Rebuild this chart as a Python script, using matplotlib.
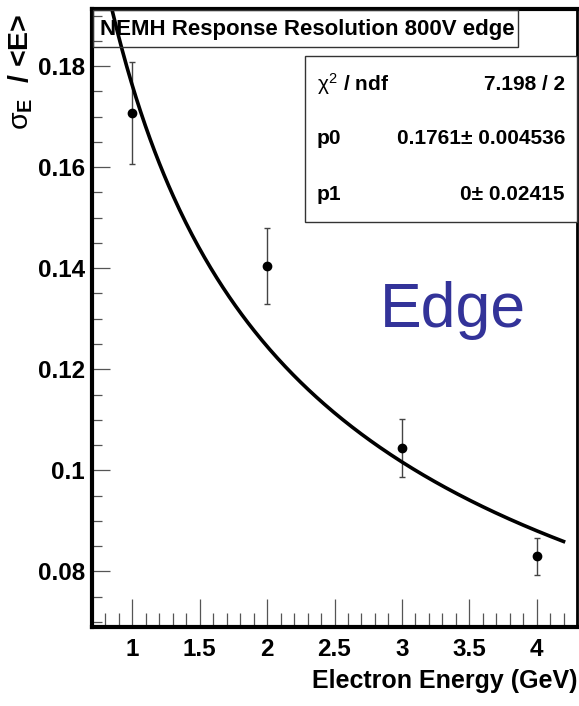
import numpy as np
import matplotlib
matplotlib.use("Agg")
import matplotlib.pyplot as plt
from matplotlib.ticker import MultipleLocator, FuncFormatter

energy = [1, 2, 3, 4]
resolution = [0.1707, 0.1405, 0.1044, 0.0830]
res_err = [0.0101, 0.0075, 0.0057, 0.0037]
p0, p1 = 0.1761, 0.0
fit_range = (0.75, 4.2)

title = "NEMH Response Resolution 800V edge"
stats_rows = [(r"$\chi^{2}$ / ndf", "7.198 / 2"),
              ("p0", "0.1761\u00b1 0.004536"),
              ("p1", "0\u00b1 0.02415")]

fam = ["Liberation Sans", "DejaVu Sans"]
plt.rcParams['font.family'] = fam
plt.rcParams['mathtext.fontset'] = 'custom'
plt.rcParams['mathtext.rm'] = 'Liberation Sans'
plt.rcParams['mathtext.it'] = 'Liberation Sans'
plt.rcParams['mathtext.bf'] = 'Liberation Sans:bold'

fig = plt.figure(figsize=(5.79, 7.06), dpi=100)
ax = fig.add_axes([92/579, 1-627/706, (577-92)/579, (627-9)/706])

xf = np.linspace(fit_range[0], fit_range[1], 300)
yf = np.sqrt((p0**2)/xf + p1**2)
ax.plot(xf, yf, color='black', lw=2.6, zorder=7, clip_on=True)

ax.errorbar(energy, resolution, yerr=res_err, fmt='o', color='black',
            ecolor='#444444', elinewidth=1.0, capsize=2.5, capthick=1.0,
            markersize=6, zorder=4)

ax.set_xlim(0.7, 4.3)
ax.set_ylim(0.069, 0.1913)
ax.xaxis.set_major_locator(MultipleLocator(0.5))
ax.xaxis.set_minor_locator(MultipleLocator(0.1))
ax.yaxis.set_major_locator(MultipleLocator(0.02))
ax.yaxis.set_minor_locator(MultipleLocator(0.005))
ax.tick_params(axis='both', which='both', direction='in', top=False, right=False,
               color='#555555', width=0.9)
ax.tick_params(axis='x', which='major', length=20, pad=8)
ax.tick_params(axis='x', which='minor', length=10)
ax.tick_params(axis='y', which='major', length=13, pad=5)
ax.tick_params(axis='y', which='minor', length=7)

def fmt(v, pos):
    return ("%.2f" % v).rstrip('0').rstrip('.')
ax.xaxis.set_major_formatter(FuncFormatter(fmt))
ax.yaxis.set_major_formatter(FuncFormatter(fmt))
for lab in ax.get_xticklabels() + ax.get_yticklabels():
    lab.set_fontsize(17.5)
    lab.set_fontweight('bold')

for side in ['left', 'bottom', 'top']:
    ax.spines[side].set_linewidth(3)
ax.spines['right'].set_linewidth(2)

ax.set_xlabel("Electron Energy (GeV)", fontsize=18, fontweight='bold', loc='right', labelpad=6)
ax.set_ylabel(r"$\sigma_{\mathbf{E}}$  / <E>", fontsize=20.5, fontweight='bold', loc='top')
ax.yaxis.set_label_coords(-0.118, 0.993)

# title box (unfilled, curve passes over it)
fig.patches.append(plt.Rectangle((93/579, 1-47/706), (518-93)/579, (47-10)/706,
                                 transform=fig.transFigure, fill=False,
                                 edgecolor='#333333', lw=1.0, zorder=5))
fig.text(100/579, 1-29/706, title, fontsize=16, fontweight='bold', va='center', ha='left', zorder=6)

# stats box
fig.patches.append(plt.Rectangle((305/579, 1-222/706), (577-305)/579, (222-56)/706,
                                 transform=fig.transFigure, fill=True, facecolor='white',
                                 edgecolor='#333333', lw=1.0, zorder=5))
row_y = [84, 139, 194]
for (k, v), yy in zip(stats_rows, row_y):
    fig.text(317/579, 1-yy/706, k, fontsize=15, fontweight='bold', va='center', ha='left', zorder=6)
    fig.text(565/579, 1-yy/706, v, fontsize=15, fontweight='bold', va='center', ha='right', zorder=6)

fig.text(380/579, 1-311/706, "Edge", fontsize=45, color='#333399', va='center', ha='left')

fig.savefig("out.png", dpi=100)
